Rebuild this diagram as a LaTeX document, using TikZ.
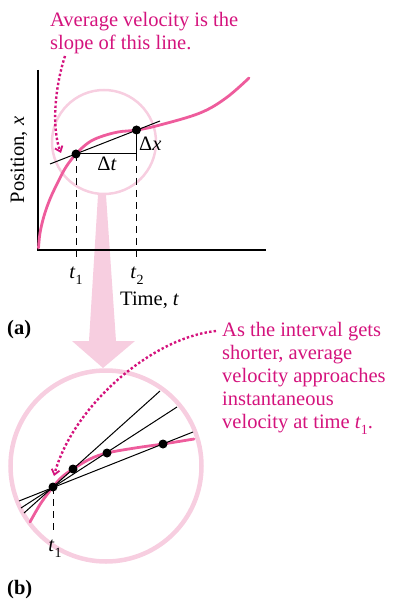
\documentclass[tikz,border=0pt]{standalone}
\usepackage{fontspec}
\setmainfont{Liberation Serif}
\usetikzlibrary{arrows.meta}
\definecolor{mag}{HTML}{D4137D}
\definecolor{crv}{HTML}{EE5C9C}
\definecolor{lpink}{HTML}{F7CEE0}
\newcommand\mysub[1]{\raisebox{-0.3em}{\fontsize{14}{14}\selectfont #1}}
\tikzset{
  lbl/.style={font=\fontsize{20.5}{23}\selectfont, inner sep=0pt},
  note/.style={lbl, text=mag, align=left},
  curve/.style={crv, line width=2.8pt, line cap=round},
  dotarrow/.style={mag, line width=2.4pt, dash pattern=on 2.4pt off 2.2pt, -{Straight Barb[length=5pt,width=8pt,line width=1.8pt]}},
  dot/.style={circle, fill=black, inner sep=0pt, minimum size=9pt},
  dashv/.style={black, line width=1pt, dash pattern=on 7pt off 5pt},
  secant/.style={black, line width=1pt},
}
\begin{document}
\begin{tikzpicture}[x=1pt,y=-1pt]
\useasboundingbox (0,0) rectangle (392,601);
% ---------- panel (a) ----------
\coordinate (O) at (38,250);
\coordinate (Ytop) at (38,70);
\coordinate (Xend) at (266,250);
% magnifier circle (small)
\coordinate (C1) at (104,142);
\draw[lpink, line width=2.5pt] (C1) circle[radius=52];
% big pink arrow
\fill[lpink] (98,195) -- (106,195) -- (116,341) -- (135,341) -- (103,368) -- (72,341) -- (89,341) -- cycle;
% axes
\draw[black, line width=1.3pt] (Ytop) -- (O) -- (Xend);
% points
\coordinate (P1) at (76,154);
\coordinate (P2) at (136.5,130);
\coordinate (Q) at (136.5,154);
\coordinate (S1) at (50,164);
\coordinate (S2) at (160,121);
\coordinate (T1) at (76,261);
\coordinate (T2) at (136.5,261);
% dashed verticals
\draw[dashv] (P1) -- (T1);
\draw[dashv] (P2) -- (T2);
% curve
\draw[curve] plot[smooth, tension=0.6] coordinates {(38.5,248) (40,233) (44,216) (50,199) (58,182) (66,167) (76,154) (88,143) (100,137) (118,132) (137,130) (160,125) (200,113) (226,98) (249,78)};
% secant and triangle
\draw[secant] (S1) -- (S2);
\draw[black, line width=1pt] (P1) -- (Q) -- (P2);
\node[dot] (d1) at (P1) {};
\node[dot] (d2) at (P2) {};
\node[lbl, anchor=base] (dt) at (107,171) {Δ\textit{t}};
\node[lbl, anchor=base west] (dx) at (139,151) {Δ\textit{x}};
\node[lbl, anchor=base] (t1) at (76,278) {\textit{t}\mysub{1}};
\node[lbl, anchor=base] (t2) at (137,278) {\textit{t}\mysub{2}};
\node[lbl, anchor=base west] (time) at (120,305) {Time, \textit{t}};
\node[lbl, rotate=90, anchor=base] (pos) at (24,160) {Position, \textit{x}};
\node[lbl, anchor=base west, font=\fontsize{20.5}{23}\selectfont\bfseries] (la) at (7,334) {(a)};
% note (a)
\node[note, anchor=base west] (na) at (50,50) {Average velocity is the\\slope of this line.};
\coordinate (na0) at (65,56);
\coordinate (na1) at (61,153);
\draw[dotarrow] (na0) .. controls (54,90) and (52,130) .. (na1);
% ---------- panel (b) ----------
\coordinate (C2) at (106,466);
\draw[lpink, line width=4.5pt] (C2) circle[radius=95.5];
\coordinate (B1) at (53,487);
\coordinate (B2) at (73,469);
\coordinate (B3) at (107,453);
\coordinate (B4) at (163,444);
\coordinate (BT) at (53,532);
\draw[dashv] (B1) -- (BT);
\draw[curve] plot[smooth, tension=0.6] coordinates {(30,522) (41,503) (53,487) (62,477) (73,469) (90,459) (107,453) (135,448) (163,444) (194,439)};
\draw[secant] (24,513) -- (160,391);
\draw[secant] (21,508) -- (177,407);
\draw[secant] (19,501) -- (193,432);
\node[dot] (e1) at (B1) {};
\node[dot] (e2) at (B2) {};
\node[dot] (e3) at (B3) {};
\node[dot] (e4) at (B4) {};
\node[lbl, anchor=base] (bt1) at (55,551) {\textit{t}\mysub{1}};
\node[lbl, anchor=base west, font=\fontsize{20.5}{23}\selectfont\bfseries] (lb) at (7,594) {(b)};
\node[note, anchor=base west] (nb) at (222,428) {As the interval gets\\shorter, average\\velocity approaches\\instantaneous\\velocity at time \textit{t}\mysub{1}.};
\coordinate (nb0) at (216,331);
\coordinate (nb1) at (54,476);
\draw[dotarrow] (nb0) .. controls (150,338) and (72,408) .. (nb1);
\end{tikzpicture}
\end{document}
